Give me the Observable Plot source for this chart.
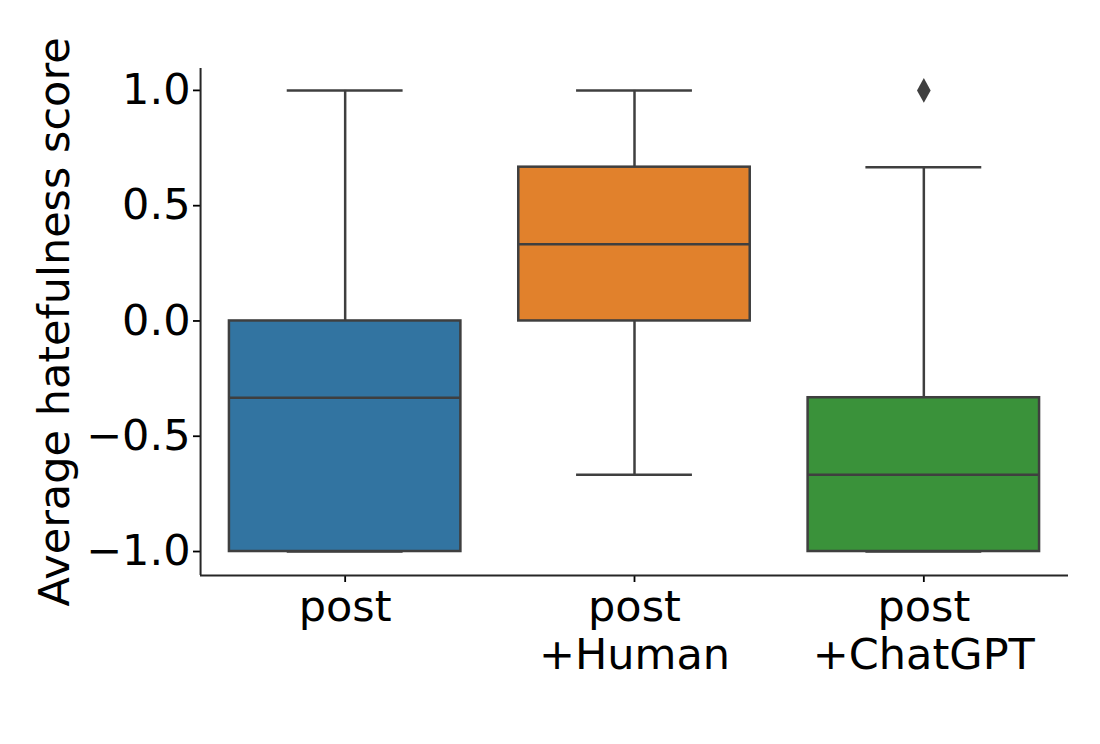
<!DOCTYPE html>
<html>
<head>
<meta charset="utf-8">
<script src="https://cdn.jsdelivr.net/npm/d3@7"></script>
<script src="https://cdn.jsdelivr.net/npm/@observablehq/plot@0.6"></script>
<style>
  html, body { margin: 0; padding: 0; background: #fff; }
  #chart svg { display: block; }
</style>
</head>
<body>
<div id="chart"></div>
<script>
const categories = ["post", "post\n+Human", "post\n+ChatGPT"];
const colors = ["#3274a1", "#e1812c", "#3a923a"];
const whiskerLow = [-1.0, -0.667, -1.0];
const q1 = [-1.0, 0.0, -1.0];
const median = [-0.333, 0.333, -0.667];
const q3 = [0.0, 0.667, -0.333];
const whiskerHigh = [1.0, 1.0, 0.667];
const outlierCats = ["post\n+ChatGPT"];
const outlierValues = [1.0];
const yTicks = [-1.0, -0.5, 0.0, 0.5, 1.0];

const stats = categories.map((c, i) => ({
  cat: c, lo: whiskerLow[i], q1: q1[i], med: median[i], q3: q3[i], hi: whiskerHigh[i]
}));
const outliers = outlierCats.map((c, i) => ({cat: c, v: outlierValues[i]}));

const lineColor = "#3f3f3f";

const thinDiamond = {
  draw(context, size) {
    const h = Math.sqrt(size) * 1.0;
    const w = h * 0.55;
    context.moveTo(0, -h);
    context.lineTo(w, 0);
    context.lineTo(0, h);
    context.lineTo(-w, 0);
    context.closePath();
  }
};

const chart = Plot.plot({
  width: 1100,
  height: 744,
  marginLeft: 200,
  marginRight: 32,
  marginTop: 68,
  marginBottom: 169,
  style: {fontFamily: "'DejaVu Sans', sans-serif", fontSize: "43px", color: "#000", background: "#fff"},
  x: {domain: categories, paddingInner: 0.2, paddingOuter: 0.1, round: false, label: null},
  y: {domain: [-1.104, 1.095], label: null},
  color: {domain: categories, range: colors},
  marks: [
    Plot.ruleX(stats, {x: "cat", y1: "lo", y2: "q1", stroke: lineColor, strokeWidth: 2.5}),
    Plot.ruleX(stats, {x: "cat", y1: "q3", y2: "hi", stroke: lineColor, strokeWidth: 2.5}),
    Plot.tickY(stats, {x: "cat", y: "lo", stroke: lineColor, strokeWidth: 2.5, insetLeft: 57.8, insetRight: 57.8}),
    Plot.tickY(stats, {x: "cat", y: "hi", stroke: lineColor, strokeWidth: 2.5, insetLeft: 57.8, insetRight: 57.8}),
    Plot.barY(stats, {x: "cat", y1: "q1", y2: "q3", fill: "cat", stroke: lineColor, strokeWidth: 2.5}),
    Plot.tickY(stats, {x: "cat", y: "med", stroke: lineColor, strokeWidth: 2.5}),
    Plot.dot(outliers, {x: "cat", y: "v", symbol: thinDiamond, r: 7, fill: lineColor, stroke: null}),
    Plot.axisY({ticks: yTicks, tickFormat: d3.format(".1f"), tickSize: 7, tickPadding: 3, strokeWidth: 1.8, label: null}),
    Plot.axisX({tickSize: 7, tickPadding: 4, strokeWidth: 1.8, label: null, lineHeight: 1.12}),
    Plot.ruleY([-1.104], {stroke: "#262626", strokeWidth: 2}),
    Plot.ruleX([categories[0]], {dx: -144.6, stroke: "#262626", strokeWidth: 2, y1: -1.104, y2: 1.095}),
    Plot.text(["Average hatefulness score"], {frameAnchor: "left", dx: -145, rotate: -90, textAnchor: "middle", fontSize: 43, fill: "#000"})
  ]
});
document.getElementById("chart").appendChild(chart);
</script>
</body>
</html>
